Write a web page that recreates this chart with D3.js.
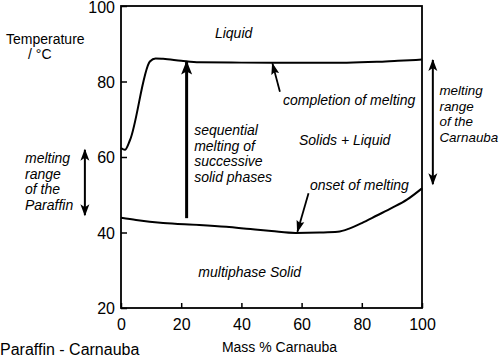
<!DOCTYPE html>
<html><head><meta charset="utf-8">
<script src="https://cdn.jsdelivr.net/npm/d3@7"></script>
<style>
body{margin:0;background:#fff}
text{font-family:"Liberation Sans",Arial,Helvetica,sans-serif;fill:#000}
</style>
</head><body>
<svg id="c" width="500" height="357"></svg>
<script>
// ---- data ----
const xTicks = [0, 20, 40, 60, 80, 100];
const yTicks = [20, 40, 60, 80, 100];
// completion of melting (liquidus), [mass % Carnauba, T / °C]
const completion = [[0,62.4],[1.3,61.9],[3,64.5],[9.6,85.3],[11.5,86.1],[14,86.0],[20,85.5],[26,85.1],[40,85.0],[60,85.0],[75,85.0],[85,85.2],[92,85.5],[100,85.8]];
// onset of melting (solidus)
const onset = [[0,43.9],[5,43.3],[14,42.5],[26,42.0],[35,41.5],[43,40.9],[50,40.4],[58,39.9],[66,40.0],[72,40.2],[76,41.1],[80,42.5],[85,44.5],[90,46.5],[95,48.7],[100,51.7]];
// annotation arrows, in data units
const seqArrow = [[21.8,43.8],[21.8,85.3]];
const completionArrow = [[52.8,77.3],[50.3,84.8]];
const onsetArrow = [[62.3,50.4],[58.6,40.2]];
const paraffinRange = [[-12,44.6],[-12,61.9]];
const carnaubaRange = [[103.6,52.8],[103.6,85.7]];
// annotation texts, in data units
const labels = [
  {lines:["Liquid"], x:31.2, t:[91.5]},
  {lines:["completion of melting"], x:53.8, t:[73.8]},
  {lines:["Solids + Liquid"], x:59.1, t:[63.2]},
  {lines:["sequential","melting of","successive","solid phases"], x:24.3, t:[65.8,61.6,57.6,53.4]},
  {lines:["onset of melting"], x:62.8, t:[51.3]},
  {lines:["multiphase Solid"], x:25.7, t:[28.2]},
  {lines:["melting","range","of the","Paraffin"], x:-31.9, t:[58.4,54.3,50.2,46.0]},
  {lines:["melting","range","of the","Carnauba"], x:105.8, t:[76.4,72.2,68.2,64.0], size:13.4}
];

// ---- layout ----
const svg = d3.select("#c");
const X0 = 121, X1 = 422, Y0 = 308, Y1 = 6;
const x = d3.scaleLinear().domain([0,100]).range([X0,X1]);
const y = d3.scaleLinear().domain([20,100]).range([Y0,Y1]);

const defs = svg.append("defs");
function marker(id, path) {
  defs.append("marker").attr("id", id)
    .attr("viewBox","-14 -7 16 14").attr("refX",0).attr("refY",0)
    .attr("markerWidth",16).attr("markerHeight",14)
    .attr("markerUnits","userSpaceOnUse")
    .attr("orient","auto-start-reverse")
    .append("path").attr("d", path).attr("fill","#000").attr("stroke","none");
}
marker("big", "M1,0 L-13,-5.5 L-10,0 L-13,5.5 Z");
marker("mid", "M1,0 L-11,-4.5 L-8,0 L-11,4.5 Z");
marker("thin","M1,0 L-11,-4 L-9,0 L-11,4 Z");

// frame
svg.append("rect").attr("x",X0).attr("y",Y1).attr("width",X1-X0).attr("height",Y0-Y1)
  .attr("fill","none").attr("stroke","#000").attr("stroke-width",1.8);

// axes
const yAxis = svg.append("g").attr("transform",`translate(${X0},0)`)
  .call(d3.axisLeft(y).tickValues(yTicks).tickSize(-6).tickPadding(6));
const xAxis = svg.append("g").attr("transform",`translate(0,${Y0})`)
  .call(d3.axisBottom(x).tickValues(xTicks).tickSize(-5).tickPadding(11));
[yAxis,xAxis].forEach(g=>{
  g.select(".domain").remove();
  g.selectAll(".tick line").attr("stroke","#000").attr("stroke-width",1.5);
  g.selectAll(".tick text").attr("font-size",16).attr("fill","#000")
    .style("font-family",'"Liberation Sans",Arial,sans-serif');
});
yAxis.selectAll(".tick text").attr("dy","0.36em");
yAxis.selectAll(".tick").filter(d=>d===100).select("text").attr("dy","0.42em");

// axis titles
svg.append("text").attr("x",6).attr("y",44).attr("font-size",14).text("Temperature");
svg.append("text").attr("x",28).attr("y",59).attr("font-size",14).text("/ °C");
svg.append("text").attr("x",279.5).attr("y",352).attr("font-size",14)
  .attr("text-anchor","middle").text("Mass % Carnauba");
svg.append("text").attr("x",0).attr("y",355).attr("font-size",16).text("Paraffin - Carnauba");

// curves
const line = d3.line().x(d=>x(d[0])).y(d=>y(d[1])).curve(d3.curveMonotoneX);
[completion, onset].forEach(c=>{
  svg.append("path").attr("d", line(c)).attr("fill","none")
    .attr("stroke","#000").attr("stroke-width",2).attr("stroke-linejoin","round");
});

// arrows
const straight = d3.line().x(d=>x(d[0])).y(d=>y(d[1]));
function arrow(pts, w, mk, both) {
  const p = svg.append("path").attr("d", straight(pts)).attr("fill","none")
    .attr("stroke","#000").attr("stroke-width",w)
    .attr("marker-end",`url(#${mk})`);
  if (both) p.attr("marker-start",`url(#${mk})`);
}
arrow(seqArrow, 3, "big", false);
arrow(completionArrow, 1.8, "thin", false);
arrow(onsetArrow, 1.8, "thin", false);
arrow(paraffinRange, 2, "mid", true);
arrow(carnaubaRange, 2, "mid", true);

// labels
labels.forEach(l=>{
  l.lines.forEach((s,i)=>{
    svg.append("text").attr("x",x(l.x)).attr("y",y(l.t[i]))
      .attr("font-size",l.size||14).attr("font-style","italic").text(s);
  });
});
</script>
</body></html>
